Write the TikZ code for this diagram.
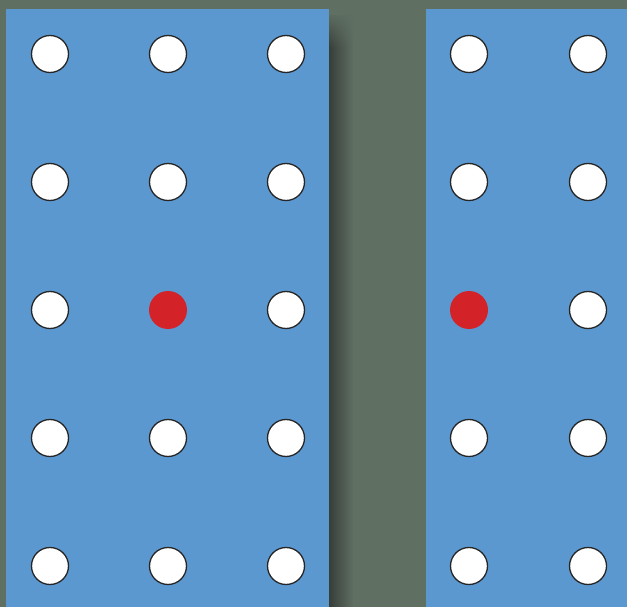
\documentclass[tikz,border=0pt]{standalone}
\usetikzlibrary{fadings}
\definecolor{bgslate}{HTML}{5F6F62}
\definecolor{boardblue}{HTML}{5B98D0}
\definecolor{pegred}{HTML}{D42229}
\definecolor{shadowgrey}{HTML}{383E3A}

\begin{document}
\begin{tikzpicture}[
  x=1pt, y=-1pt,
  hole/.style={circle, draw=black!85, line width=1.3pt, fill=white,
               minimum size=37pt, inner sep=0pt},
  peg/.style={circle, fill=pegred, minimum size=38pt, inner sep=0pt}
]

% Background
\fill[bgslate] (0,0) rectangle (627,607);

% Shadow of the left board
\fill[shadowgrey, path fading=east] (329,14) rectangle (353,607);
\fill[bgslate, path fading=south] (329,12) rectangle (354,48);

% Boards
\fill[boardblue] (6,9) rectangle (329,607);
\fill[boardblue] (426,9) rectangle (627,607);

% Left board holes
\foreach \row/\y in {1/54,2/182,3/310,4/438,5/566} {
  \foreach \col/\x in {1/50,2/168,3/286} {
    \ifnum\row\col=32 \def\kind{peg}\else\def\kind{hole}\fi
    \node[\kind] (left-\row-\col) at (\x,\y) {};
  }
}

% Right board holes
\foreach \row/\y in {1/54,2/182,3/310,4/438,5/566} {
  \foreach \col/\x in {1/469,2/588} {
    \ifnum\row\col=31 \def\kind{peg}\else\def\kind{hole}\fi
    \node[\kind] (right-\row-\col) at (\x,\y) {};
  }
}

\end{tikzpicture}
\end{document}
